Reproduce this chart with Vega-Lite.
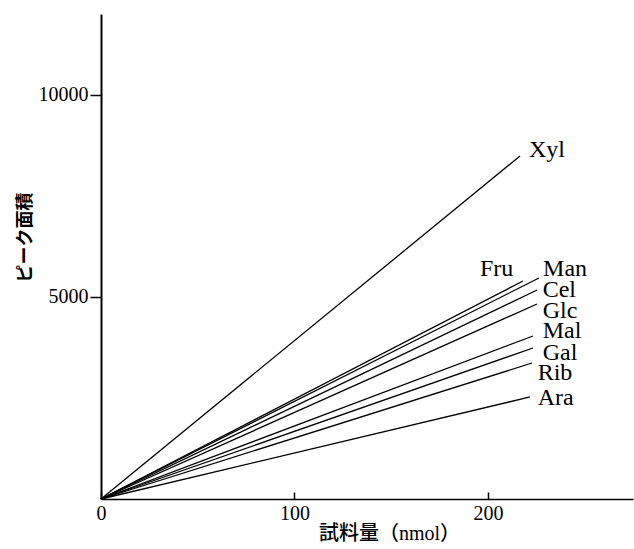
{
  "$schema": "https://vega.github.io/schema/vega-lite/v6.json",
  "width": 532,
  "height": 485,
  "autosize": "none",
  "padding": {"left": 101, "top": 14, "right": 1, "bottom": 50},
  "background": "white",
  "config": {
    "view": {"stroke": null},
    "axis": {"grid": false, "domainColor": "black", "tickColor": "black", "labelColor": "black", "titleColor": "black"}
  },
  "datasets": {
    "lines": [
      {"sugar": "Xyl", "x": 0, "y": 0}, {"sugar": "Xyl", "x": 216.6, "y": 8487},
      {"sugar": "Fru", "x": 0, "y": 0}, {"sugar": "Fru", "x": 218.1, "y": 5394},
      {"sugar": "Man", "x": 0, "y": 0}, {"sugar": "Man", "x": 226.4, "y": 5468},
      {"sugar": "Cel", "x": 0, "y": 0}, {"sugar": "Cel", "x": 225.4, "y": 5171},
      {"sugar": "Glc", "x": 0, "y": 0}, {"sugar": "Glc", "x": 225.4, "y": 4825},
      {"sugar": "Mal", "x": 0, "y": 0}, {"sugar": "Mal", "x": 223.3, "y": 4033},
      {"sugar": "Gal", "x": 0, "y": 0}, {"sugar": "Gal", "x": 223.3, "y": 3736},
      {"sugar": "Rib", "x": 0, "y": 0}, {"sugar": "Rib", "x": 222.8, "y": 3365},
      {"sugar": "Ara", "x": 0, "y": 0}, {"sugar": "Ara", "x": 221.8, "y": 2524}
    ],
    "labels": [
      {"sugar": "Xyl", "x": 221.2, "y": 8462},
      {"sugar": "Fru", "x": 195.9, "y": 5517},
      {"sugar": "Man", "x": 228.5, "y": 5517},
      {"sugar": "Cel", "x": 228.3, "y": 5005},
      {"sugar": "Glc", "x": 228.3, "y": 4478},
      {"sugar": "Mal", "x": 228.3, "y": 3983},
      {"sugar": "Gal", "x": 228.3, "y": 3439},
      {"sugar": "Rib", "x": 225.7, "y": 2944},
      {"sugar": "Ara", "x": 225.7, "y": 2326}
    ]
  },
  "layer": [
    {
      "data": {"name": "lines"},
      "mark": {"type": "line", "color": "black", "strokeWidth": 1.3},
      "encoding": {
        "x": {
          "field": "x", "type": "quantitative",
          "scale": {"domain": [0, 275], "nice": false, "zero": true},
          "axis": {
            "values": [0, 100, 200],
            "tickSize": -7,
            "tickWidth": 1.5,
            "domainWidth": 1.5,
            "labelPadding": 11,
            "labelFont": "Liberation Serif",
            "labelFontSize": 20,
            "labelFlush": false,
            "title": "試料量（nmol）",
            "titleFont": "Liberation Serif, Noto Sans CJK JP",
            "titleFontSize": 20,
            "titleFontWeight": 500,
            "titleX": 288,
            "titleY": 40,
            "titleAlign": "center",
            "titleBaseline": "alphabetic"
          }
        },
        "y": {
          "field": "y", "type": "quantitative",
          "scale": {"domain": [0, 12000], "nice": false},
          "axis": {
            "values": [5000, 10000],
            "tickSize": 11,
            "tickWidth": 1.5,
            "domainWidth": 2,
            "labelPadding": 2,
            "labelFont": "Liberation Serif",
            "labelFontSize": 20,
            "format": "d",
            "title": "ピーク面積",
            "titleFont": "Noto Sans CJK JP",
            "titleFontSize": 18,
            "titleFontWeight": "bold",
            "titleAngle": -90,
            "titleX": -76,
            "titleY": 223,
            "titleAlign": "center",
            "titleBaseline": "middle"
          }
        },
        "detail": {"field": "sugar"}
      }
    },
    {
      "data": {"name": "labels"},
      "mark": {"type": "text", "align": "left", "baseline": "alphabetic", "font": "Liberation Serif", "fontSize": 24, "color": "black"},
      "encoding": {
        "x": {"field": "x", "type": "quantitative"},
        "y": {"field": "y", "type": "quantitative"},
        "text": {"field": "sugar"}
      }
    }
  ]
}
